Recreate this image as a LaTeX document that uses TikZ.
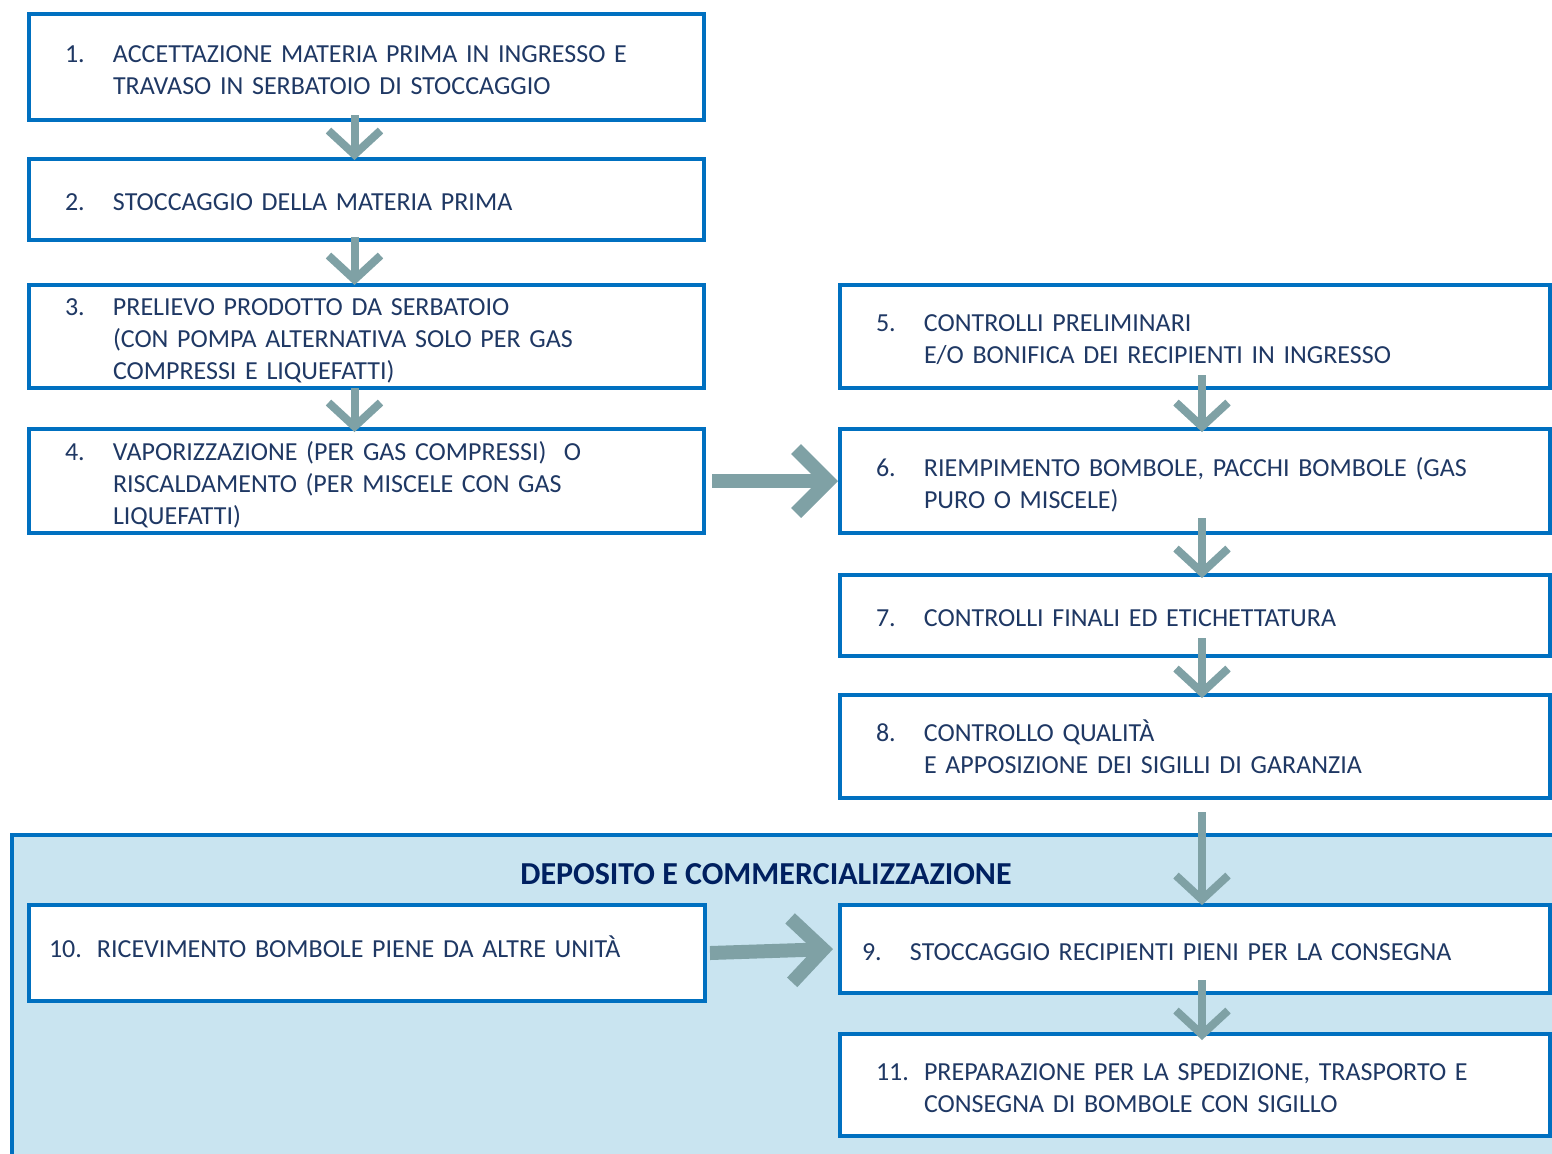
\documentclass[tikz,border=0pt]{standalone}
\usepackage{fontspec}
\setmainfont{Carlito}
\usetikzlibrary{arrows.meta,positioning}

\definecolor{boxblue}{HTML}{0070C0}
\definecolor{textnavy}{HTML}{1F3864}
\definecolor{titlenavy}{HTML}{002060}
\definecolor{arrowgray}{HTML}{7FA1A5}
\definecolor{panelblue}{HTML}{C9E4F0}

\newcommand{\stepnum}[2]{\noindent\makebox[24pt][l]{#1}\begin{tabular}[t]{@{}l@{}}#2\end{tabular}\par\vspace*{-5pt}}

\begin{document}
\begin{tikzpicture}[
    x=0.5pt, y=-0.5pt,
    stepbox/.style={rectangle, draw=boxblue, line width=2pt, fill=white, anchor=north west,
        align=left, inner xsep=18pt, inner ysep=0pt, text=textnavy, font=\fontsize{13}{16}\selectfont},
    lbox/.style={stepbox, text width=301.5pt},
    rbox/.style={stepbox, text width=319pt},
    down/.style={draw=arrowgray, line width=4pt, -{Straight Barb[length=12pt, width=26pt]}},
    across/.style={draw=arrowgray, line width=7pt, -{Straight Barb[length=16pt, width=32pt]}},
]
    \useasboundingbox (0,0) rectangle (1552,1153);

    % lower panel
    \path[fill=panelblue, draw=boxblue, line width=2pt] (12,835) rectangle (1562,1162);
    \node[font=\bfseries\fontsize{16}{18}\selectfont, text=titlenavy] (title) at (766,874) {DEPOSITO E COMMERCIALIZZAZIONE};

    % left column
    \node[lbox, minimum height=53pt] (b1) at (27,12)
        {\stepnum{1.}{ACCETTAZIONE MATERIA PRIMA IN INGRESSO E\\TRAVASO IN SERBATOIO DI STOCCAGGIO}};
    \node[lbox, minimum height=40.5pt, below=17.5pt of b1] (b2)
        {\stepnum{2.}{STOCCAGGIO DELLA MATERIA PRIMA}};
    \node[lbox, minimum height=51.5pt, below=20.5pt of b2] (b3)
        {\stepnum{3.}{PRELIEVO PRODOTTO DA SERBATOIO\\(CON POMPA ALTERNATIVA SOLO PER GAS\\COMPRESSI E LIQUEFATTI)}};
    \node[lbox, minimum height=52pt, below=18.5pt of b3] (b4)
        {\stepnum{4.}{VAPORIZZAZIONE (PER GAS COMPRESSI)\ \ O\\RISCALDAMENTO (PER MISCELE CON GAS\\LIQUEFATTI)}};

    % right column
    \node[rbox, minimum height=51.5pt] (b5) at (838,283)
        {\stepnum{5.}{CONTROLLI PRELIMINARI\\E/O BONIFICA DEI RECIPIENTI IN INGRESSO}};
    \node[rbox, minimum height=52pt, below=18.5pt of b5] (b6)
        {\stepnum{6.}{RIEMPIMENTO BOMBOLE, PACCHI BOMBOLE (GAS\\PURO O MISCELE)}};
    \node[rbox, minimum height=40.5pt, below=19pt of b6] (b7)
        {\stepnum{7.}{CONTROLLI FINALI ED ETICHETTATURA}};
    \node[rbox, minimum height=51.5pt, below=17.5pt of b7] (b8)
        {\stepnum{8.}{CONTROLLO QUALIT\`A\\E APPOSIZIONE DEI SIGILLI DI GARANZIA}};
    \node[rbox, minimum height=44pt, inner xsep=11pt, text width=333pt, below=51.5pt of b8] (b9)
        {\stepnum{9.}{STOCCAGGIO RECIPIENTI PIENI PER LA CONSEGNA}};
    \node[rbox, minimum height=51pt, below=18.5pt of b9] (b11)
        {\stepnum{11.}{PREPARAZIONE PER LA SPEDIZIONE, TRASPORTO E\\CONSEGNA DI BOMBOLE CON SIGILLO}};
    \node[lbox, minimum height=48pt, inner xsep=10pt, text width=318pt] (b10) at (27,903)
        {\stepnum{10.}{RICEVIMENTO BOMBOLE PIENE DA ALTRE UNIT\`A}\vspace*{7pt}};

    % arrows
    \draw[down] ([xshift=-6pt,yshift=3.5pt]b1.south) -- ([xshift=-6pt,yshift=-1.5pt]b2.north);
    \draw[down] ([xshift=-6pt,yshift=2.5pt]b2.south) -- ([xshift=-6pt,yshift=-1pt]b3.north);
    \draw[down] ([xshift=-6pt,yshift=1pt]b3.south) -- ([xshift=-6pt,yshift=-2.5pt]b4.north);
    \draw[across] ([xshift=3pt]b4.east) -- (b6.west);
    \draw[down] ([xshift=3.5pt,yshift=7.5pt]b5.south) -- ([xshift=3.5pt,yshift=-2.5pt]b6.north);
    \draw[down] ([xshift=3.5pt,yshift=8.5pt]b6.south) -- ([xshift=3.5pt,yshift=-2.5pt]b7.north);
    \draw[down] ([xshift=3.5pt,yshift=10pt]b7.south) -- ([xshift=3.5pt,yshift=-2.5pt]b8.north);
    \draw[down] ([xshift=3.5pt,yshift=-6pt]b8.south) -- ([xshift=3.5pt,yshift=-1pt]b9.north);
    \draw[down] ([xshift=3.5pt,yshift=7.5pt]b9.south) -- ([xshift=3.5pt,yshift=-4pt]b11.north);
    \draw[across] ([xshift=1.5pt]b10.east) -- ([xshift=-2.5pt]b9.west);
\end{tikzpicture}
\end{document}
